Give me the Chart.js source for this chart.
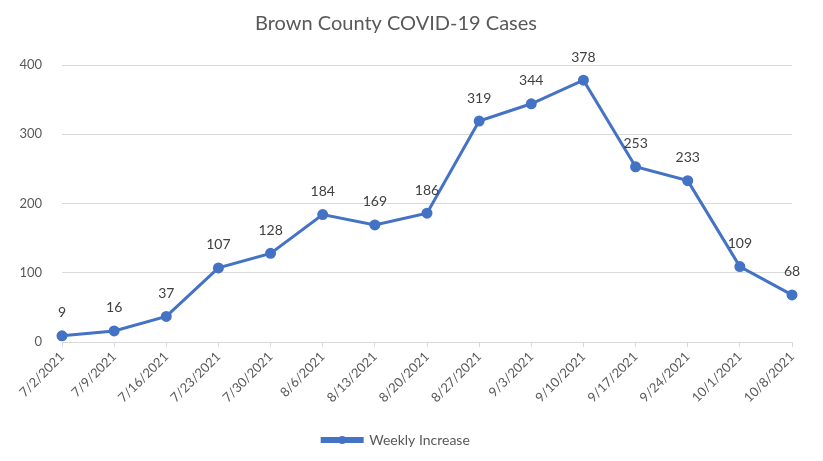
<!DOCTYPE html>
<html>
<head>
<meta charset="utf-8">
<script src="https://cdn.jsdelivr.net/npm/chart.js@4.4.1/dist/chart.umd.min.js"></script>
<style>
  html, body { margin: 0; padding: 0; background: #fff; }
  canvas { display: block; }
</style>
</head>
<body>
<canvas id="c" width="823" height="461"></canvas>
<script>
// data
const weeks = ['7/2/2021','7/9/2021','7/16/2021','7/23/2021','7/30/2021','8/6/2021','8/13/2021',
               '8/20/2021','8/27/2021','9/3/2021','9/10/2021','9/17/2021','9/24/2021','10/1/2021','10/8/2021'];
const weeklyIncrease = [9, 16, 37, 107, 128, 184, 169, 186, 319, 344, 378, 253, 233, 109, 68];
const yTicks = [0, 100, 200, 300, 400];

const BLUE = '#4472C4';
const TXT = '#595959';
const FONT = 'Lato, "Open Sans", sans-serif';

/* value labels above each point */
const valueLabels = {
  id: 'valueLabels',
  afterDatasetsDraw(chart) {
    const ctx = chart.ctx;
    const meta = chart.getDatasetMeta(0);
    ctx.save();
    ctx.font = '14px ' + FONT;
    ctx.fillStyle = '#404040';
    ctx.textAlign = 'center';
    ctx.textBaseline = 'bottom';
    meta.data.forEach((pt, i) => {
      ctx.fillText(String(weeklyIncrease[i]), pt.x, pt.y - 16);
    });
    ctx.restore();
  }
};

/* dot in the middle of the legend line, like Excel */
const legendDot = {
  id: 'legendDot',
  afterDraw(chart) {
    const lg = chart.legend;
    if (!lg || !lg.legendHitBoxes) return;
    const ctx = chart.ctx;
    ctx.save();
    lg.legendHitBoxes.forEach(b => {
      const cx = b.left + lg.options.labels.boxWidth / 2;
      const cy = b.top + b.height / 2;
      ctx.fillStyle = BLUE;
      ctx.beginPath();
      ctx.arc(cx, cy, 4, 0, Math.PI * 2);
      ctx.fill();
    });
    ctx.restore();
  }
};

new Chart(document.getElementById('c'), {
  type: 'line',
  data: {
    labels: weeks,
    datasets: [{
      label: 'Weekly Increase',
      data: weeklyIncrease,
      borderColor: BLUE,
      backgroundColor: BLUE,
      borderWidth: 3,
      pointRadius: 4,
      pointBackgroundColor: BLUE,
      pointBorderColor: BLUE,
      tension: 0
    }]
  },
  options: {
    responsive: false,
    animation: false,
    layout: { padding: { left: 0, right: 31, top: 0, bottom: 4 } },
    plugins: {
      title: {
        display: true,
        text: 'Brown County COVID-19 Cases',
        color: TXT,
        font: { family: FONT, size: 20, weight: 'normal' },
        padding: { top: 12, bottom: 29 }
      },
      legend: {
        position: 'bottom',
        labels: {
          color: TXT,
          font: { family: FONT, size: 14 },
          boxWidth: 40,
          boxHeight: 3,
          padding: 5
        }
      },
      tooltip: { enabled: false }
    },
    scales: {
      x: {
        offset: false,
        grid: { display: true, drawOnChartArea: false, drawTicks: true, tickLength: 5, color: '#d9d9d9' },
        border: { display: true, color: '#d9d9d9' },
        ticks: {
          color: TXT,
          font: { family: FONT, size: 13 },
          minRotation: 45,
          maxRotation: 45,
          autoSkip: false,
          padding: 2
        },
        afterFit(scale) { scale.height = 86; }
      },
      y: {
        min: 0,
        max: 400,
        afterBuildTicks(scale) { scale.ticks = yTicks.map(v => ({ value: v })); },
        grid: { color: '#d9d9d9', drawTicks: false },
        border: { display: false },
        ticks: {
          color: TXT,
          font: { family: FONT, size: 13 },
          padding: 20
        },
        afterFit(scale) { scale.width = 62; }
      }
    }
  },
  plugins: [valueLabels, legendDot]
});
</script>
</body>
</html>
